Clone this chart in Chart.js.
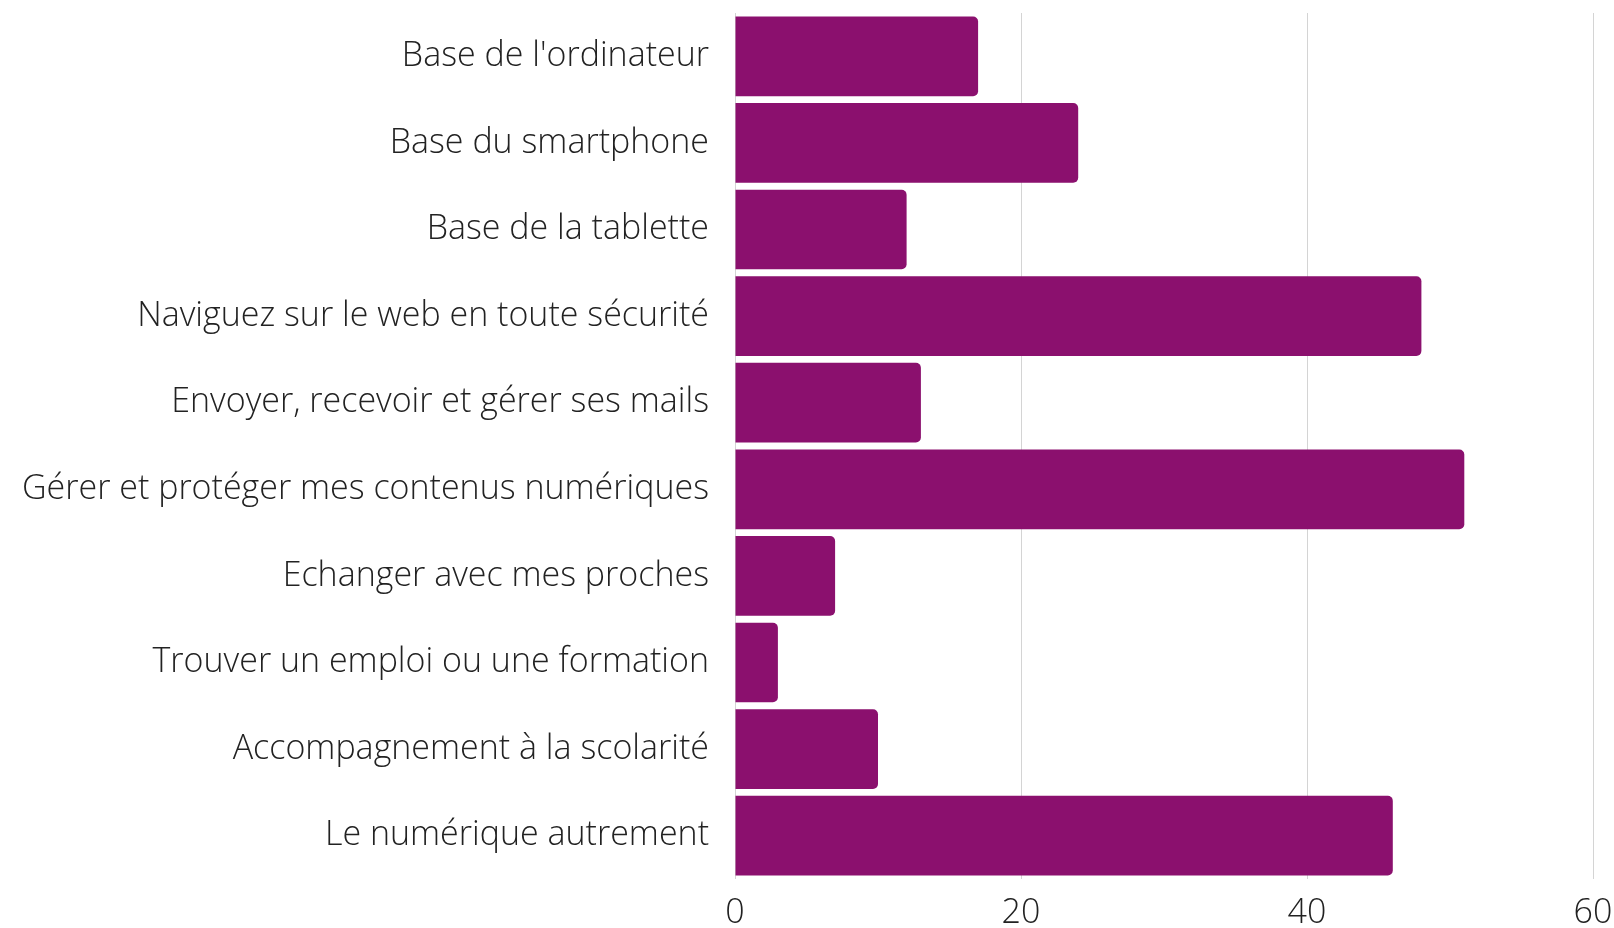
<!DOCTYPE html>
<html lang="fr">
<head>
  <meta charset="UTF-8" />
  <title>Ateliers numériques</title>
  <script src="https://cdn.jsdelivr.net/npm/chart.js"></script>
  <style>
    html, body {
      margin: 0;
      padding: 0;
      background: #fff;
    }
    .wrap {
      width: 1614px;
      height: 928px;
      position: relative;
    }
  </style>
</head>
<body>
  <div class="wrap">
    <canvas id="atelierChart"></canvas>
  </div>

  <script>
    const categories = [
      "Base de l'ordinateur",
      'Base du smartphone',
      'Base de la tablette',
      'Naviguez sur le web en toute sécurité',
      'Envoyer, recevoir et gérer ses mails',
      'Gérer et protéger mes contenus numériques',
      'Echanger avec mes proches',
      'Trouver un emploi ou une formation',
      'Accompagnement à la scolarité',
      'Le numérique autrement'
    ];
    const values = [17, 24, 12, 48, 13, 51, 7, 3, 10, 46];
    const xTicks = [0, 20, 40, 60];

    const barColor = '#8b106e';
    const textColor = '#222';
    const font = { family: '"Open Sans", sans-serif', size: 34, weight: 300 };

    function renderChart() {
      const ctx = document.getElementById('atelierChart').getContext('2d');
      new Chart(ctx, {
        type: 'bar',
        data: {
          labels: categories,
          datasets: [{
            data: values,
            backgroundColor: barColor,
            borderRadius: 5,
            borderSkipped: 'start',
            barPercentage: 1,
            categoryPercentage: 0.92
          }]
        },
        options: {
          indexAxis: 'y',
          responsive: true,
          maintainAspectRatio: false,
          animation: false,
          layout: { padding: { top: 13, right: 21, bottom: 0, left: 0 } },
          plugins: {
            legend: { display: false },
            tooltip: { enabled: false }
          },
          scales: {
            x: {
              min: xTicks[0],
              max: xTicks[xTicks.length - 1],
              afterBuildTicks: (axis) => {
                axis.ticks = xTicks.map(v => ({ value: v }));
              },
              afterFit: (axis) => {
                axis.height = 49;
                axis.paddingLeft = 0;
                axis.paddingRight = 0;
              },
              ticks: { color: textColor, font: font, padding: 14 },
              grid: { color: '#d4d4d4', drawTicks: false, lineWidth: 1 },
              border: { display: false }
            },
            y: {
              afterFit: (axis) => {
                axis.width = 735;
                axis.paddingTop = 0;
                axis.paddingBottom = 0;
              },
              ticks: { color: textColor, font: font, padding: 26 },
              grid: { display: false, drawTicks: false },
              border: { display: false }
            }
          }
        }
      });
    }

    window.onload = renderChart;
  </script>
</body>
</html>
